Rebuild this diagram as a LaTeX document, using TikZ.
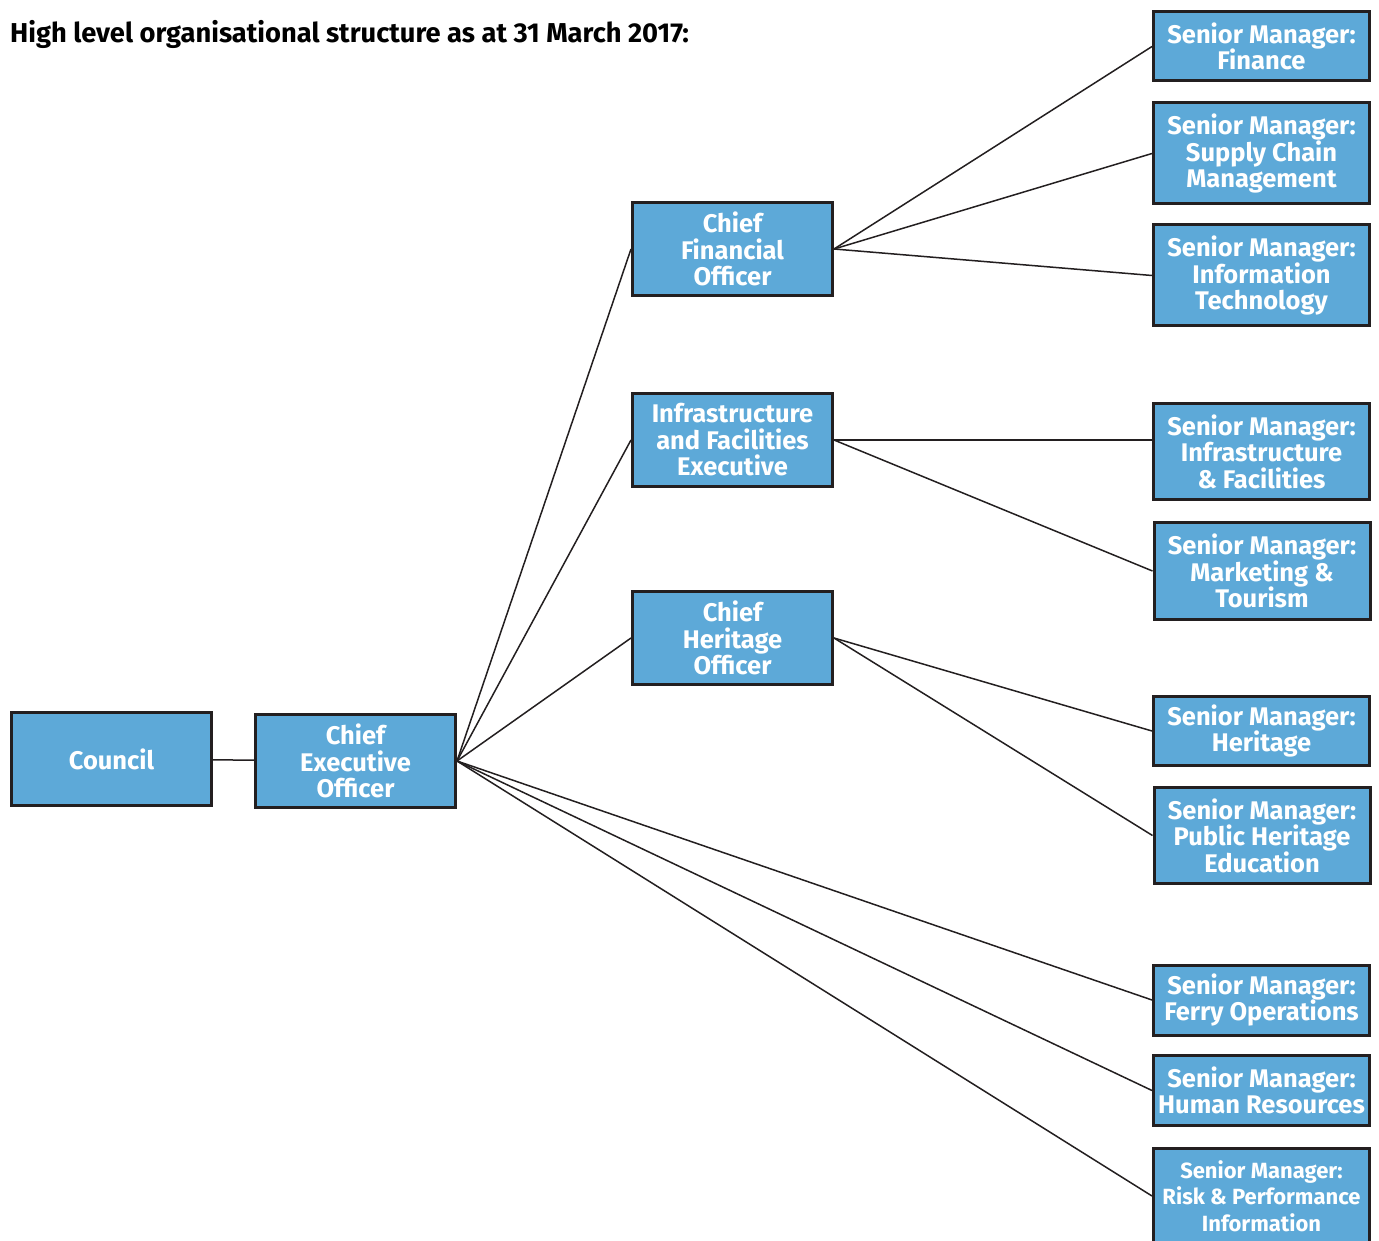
\documentclass[tikz,border=0pt]{standalone}
\usepackage{fontspec}
\setmainfont{Fira Sans}
\usetikzlibrary{positioning}
\definecolor{boxblue}{RGB}{93,169,216}
\definecolor{boxline}{RGB}{35,31,32}
\begin{document}
\begin{tikzpicture}
  [x=1pt,y=-1pt,
  post/.style={draw=boxline,fill=boxblue,line width=3pt,text=white,align=center,inner sep=0pt,
    font=\fontsize{25.5}{26.5}\selectfont\bfseries,minimum width=200pt,minimum height=93pt},
  smpost/.style={post,minimum width=216pt},
  link/.style={draw=boxline,line width=1.5pt}]
  \useasboundingbox (0,0) rectangle (1379,1241);
  \node[anchor=base west,font=\fontsize{27.3}{28}\selectfont\bfseries,inner sep=0pt] (title) at (10,43) {High level organisational structure as at 31 March 2017:};

  \node[post] (council) at (111.5,759) {Council};
  \node[post] (ceo) at (355.5,761) {Chief\\Executive\\Officer};

  \node[post] (cfo) at (732.5,249) {Chief\\Financial\\Officer};
  \node[post] (ife) at (732.5,440) {Infrastructure\\and Facilities\\Executive};
  \node[post] (cho) at (732.5,638) {Chief\\Heritage\\Officer};

  \node[smpost,minimum height=69pt] (fin) at (1261.5,46.5) {Senior Manager:\\Finance};
  \node[smpost,minimum height=101pt] (scm) at (1261.5,153.5) {Senior Manager:\\Supply Chain\\Management};
  \node[smpost,minimum height=101pt] (it) at (1261.5,275.5) {Senior Manager:\\Information\\Technology};
  \node[smpost,minimum height=96pt] (inf) at (1261.5,451.5) {Senior Manager:\\Infrastructure\\\& Facilities};
  \node[smpost,minimum height=97pt] (mkt) at (1262,571) {Senior Manager:\\Marketing \&\\Tourism};
  \node[smpost,minimum height=69pt] (her) at (1261.5,731) {Senior Manager:\\Heritage};
  \node[smpost,minimum height=96pt] (phe) at (1262,835.5) {Senior Manager:\\Public Heritage\\Education};
  \node[smpost,minimum height=70pt] (ferry) at (1261.5,1000) {Senior Manager:\\Ferry Operations};
  \node[smpost,minimum height=70pt] (hr) at (1261.5,1090.5) {Senior Manager:\\Human Resources};
  \node[smpost,minimum height=96pt,font=\fontsize{22}{26.5}\selectfont\bfseries] (risk) at (1261.5,1196) {Senior Manager:\\Risk \& Performance\\Information};

  \draw[link] (council) -- (ceo);
  \foreach \n in {cfo,ife,cho,ferry,hr,risk}
    \draw[link] (ceo.east) -- (\n.west);
  \foreach \n in {fin,scm,it}
    \draw[link] (cfo.east) -- (\n.west);
  \draw[link] (ife.east) -- (inf.west |- ife.east);
  \draw[link] (ife.east) -- (mkt.west);
  \foreach \n in {her,phe}
    \draw[link] (cho.east) -- (\n.west);
\end{tikzpicture}
\end{document}
